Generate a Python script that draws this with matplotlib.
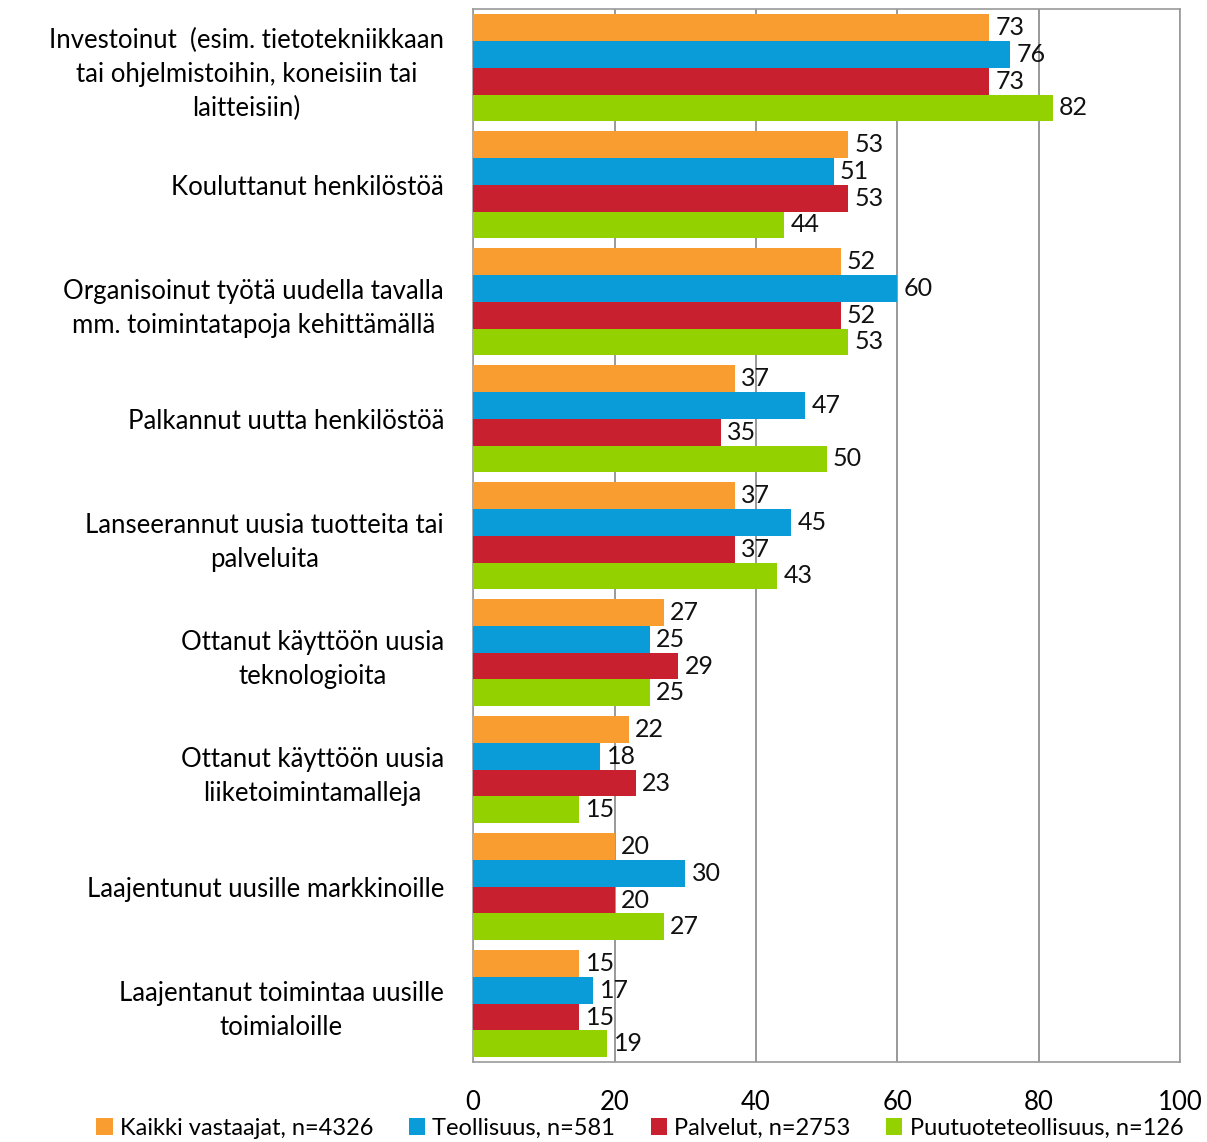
import numpy as np
import matplotlib.pyplot as plt

plt.rcParams['font.family'] = ['Lato', 'DejaVu Sans']

categories = [
    "Investoinut  (esim. tietotekniikkaan\ntai ohjelmistoihin, koneisiin tai\nlaitteisiin)",
    "Kouluttanut henkilöstöä",
    "Organisoinut työtä uudella tavalla\nmm. toimintatapoja kehittämällä",
    "Palkannut uutta henkilöstöä",
    "Lanseerannut uusia tuotteita tai\npalveluita",
    "Ottanut käyttöön uusia\nteknologioita",
    "Ottanut käyttöön uusia\nliiketoimintamalleja",
    "Laajentunut uusille markkinoille",
    "Laajentanut toimintaa uusille\ntoimialoille",
]
kaikki = [73, 53, 52, 37, 37, 27, 22, 20, 15]
teollisuus = [76, 51, 60, 47, 45, 25, 18, 30, 17]
palvelut = [73, 53, 52, 35, 37, 29, 23, 20, 15]
puutuote = [82, 44, 53, 50, 43, 25, 15, 27, 19]
series_names = ["Kaikki vastaajat, n=4326", "Teollisuus, n=581",
                "Palvelut, n=2753", "Puutuoteteollisuus, n=126"]
colors = ["#F99D31", "#0A9CD8", "#C9202F", "#93D200"]

fig = plt.figure(figsize=(12.07, 11.42), dpi=100)
ax = fig.add_axes([0.392, 0.070, 0.5856, 0.922])

y = np.arange(len(categories))
h = 0.23
all_series = [kaikki, teollisuus, palvelut, puutuote]
for i, (vals, name, c) in enumerate(zip(all_series, series_names, colors)):
    pos = y - 1.5 * h + i * h
    ax.barh(pos, vals, height=h, color=c, label=name, zorder=3)
    for p, v in zip(pos, vals):
        ax.text(v + 0.9, p, str(v), va='center', ha='left', fontsize=18,
                color='#111111', zorder=4)

ax.set_xlim(0, 100)
ax.set_ylim(len(categories) - 0.5, -0.5)
ax.set_xticks([0, 20, 40, 60, 80, 100])
ax.set_yticks(y)
ax.set_yticklabels(categories, fontsize=18.5, multialignment='center',
                   linespacing=1.45)
ax.tick_params(axis='both', length=0)
ax.tick_params(axis='x', labelsize=18.5, pad=20)
ax.tick_params(axis='y', pad=21)
ax.grid(axis='x', color='#888888', linewidth=1.2, zorder=0)
for s in ax.spines.values():
    s.set_color('#999999')
    s.set_linewidth(1.2)

fig.legend(loc='lower center', bbox_to_anchor=(0.53, -0.016), ncol=4,
           frameon=False, fontsize=17, handlelength=0.7, handleheight=0.7,
           handletextpad=0.3, columnspacing=1.5)

fig.savefig('out.png', dpi=100)
